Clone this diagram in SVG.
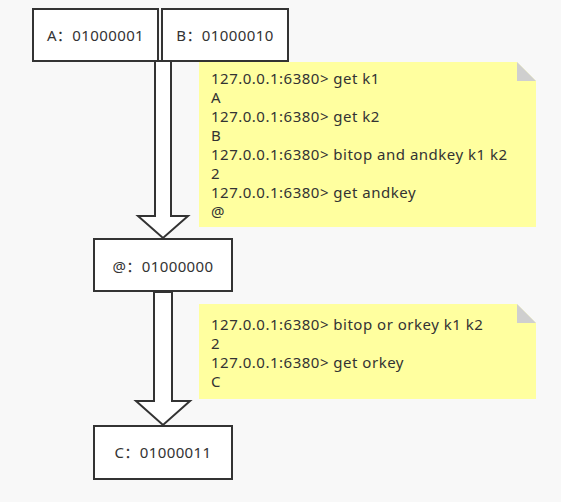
<svg xmlns="http://www.w3.org/2000/svg" width="561" height="502" viewBox="0 0 561 502">
<style>
.box{fill:#ffffff;stroke:#333333;stroke-width:2}
.lbl{font-family:"Noto Sans","Liberation Sans","Noto Sans CJK SC",sans-serif;font-size:15px;letter-spacing:0.4px;fill:#333333;text-anchor:middle}
.note{fill:#ffff9f;stroke:none}
.fold{fill:#cfcfcf}
.nt{font-family:"Noto Sans","Liberation Sans",sans-serif;font-size:15px;letter-spacing:0.5px;fill:#333333}
.arr{fill:#ffffff;stroke:#333333;stroke-width:2;stroke-linejoin:miter}
</style>
<rect width="561" height="502" fill="#f8f8f8"/>
<g id="connectors">
<polygon class="arr" points="155,61 171,61 171,216 188,216 163,238 138,216 155,216"/>
<polygon class="arr" points="154,292 172,292 172,401 190,401 163,425 136,401 154,401"/>
</g>
<g id="nodeA"><rect class="box" x="33" y="9" width="125" height="52"/><text class="lbl" x="95.5" y="41">A：01000001</text></g>
<g id="nodeB"><rect class="box" x="162" y="9" width="126" height="52"/><text class="lbl" x="225" y="41">B：01000010</text></g>
<g id="nodeAt"><rect class="box" x="94" y="239" width="138" height="52"/><text class="lbl" x="163" y="272">@：01000000</text></g>
<g id="nodeC"><rect class="box" x="94" y="426" width="138" height="53"/><text class="lbl" x="163" y="458">C：01000011</text></g>
<g id="note1">
<polygon class="note" points="199,62 517,62 536,81 536,227 199,227"/>
<polygon class="fold" points="517,62 536,81 517,81"/>
<text class="nt" x="211" y="84">127.0.0.1:6380&gt; get k1</text>
<text class="nt" x="211" y="103">A</text>
<text class="nt" x="211" y="122">127.0.0.1:6380&gt; get k2</text>
<text class="nt" x="211" y="141">B</text>
<text class="nt" x="211" y="160">127.0.0.1:6380&gt; bitop and andkey k1 k2</text>
<text class="nt" x="211" y="179">2</text>
<text class="nt" x="211" y="198">127.0.0.1:6380&gt; get andkey</text>
<text class="nt" x="211" y="217">@</text>
</g>
<g id="note2">
<polygon class="note" points="199,304 517,304 536,323 536,399 199,399"/>
<polygon class="fold" points="517,304 536,323 517,323"/>
<text class="nt" x="211" y="330">127.0.0.1:6380&gt; bitop or orkey k1 k2</text>
<text class="nt" x="211" y="349">2</text>
<text class="nt" x="211" y="368">127.0.0.1:6380&gt; get orkey</text>
<text class="nt" x="211" y="387">C</text>
</g>
</svg>
